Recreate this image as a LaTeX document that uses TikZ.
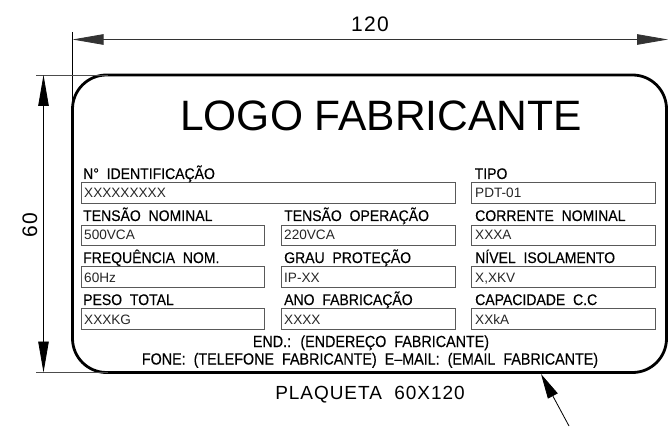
\documentclass[tikz,border=0pt]{standalone}
\usepackage{fontspec}
\setmainfont{Liberation Sans}
\newfontfamily\boldish[FakeBold=0.3,FakeStretch=0.91]{Liberation Sans}
\newfontfamily\footish[FakeBold=0.3,FakeStretch=0.89]{Liberation Sans}
\newfontfamily\wide[LetterSpace=6]{Liberation Sans}
\newfontfamily\widepq[LetterSpace=5]{Liberation Sans}
\usetikzlibrary{arrows.meta}
\tikzset{
  x=1pt,y=-1pt,
  plate/.style={draw=black,line width=2.8pt,rounded corners=34pt},
  field/.style={draw=black!65,line width=0.9pt},
  lab/.style={anchor=base west,inner sep=0pt,font=\boldish\fontsize{15.4}{16}\selectfont},
  val/.style={anchor=base west,inner sep=0pt,text=black!85,font=\fontsize{13.6}{14}\selectfont},
  foot/.style={anchor=base,inner sep=0pt,font=\footish\fontsize{16.1}{17}\selectfont},
  dimtext/.style={inner sep=0pt,font=\wide\fontsize{21}{22}\selectfont},
  dimline/.style={draw=black!80,line width=0.8pt},
  extline/.style={draw=black!70,line width=0.8pt},
  bigtip/.style={{Triangle[length=31pt,width=10.5pt]}-{Triangle[length=31pt,width=10.5pt]}},
  leadertip/.style={{Triangle[length=25pt,width=11pt]}-},
}
\begin{document}
\begin{tikzpicture}
\useasboundingbox (0,0) rectangle (668,427);
\draw[plate] (72.5,75) rectangle (666.5,372.5);
\coordinate (pl) at (72.5,39.5); \coordinate (pr) at (668,39.5);
\coordinate (vt) at (43.5,75); \coordinate (vb) at (43.5,372.5);
\coordinate (e1a) at (72.5,32); \coordinate (e1b) at (72.5,108);
\coordinate (e2a) at (36,75); \coordinate (e2b) at (108,75);
\coordinate (e3a) at (36,372.5); \coordinate (e3b) at (108,372.5);
\coordinate (la) at (541,374); \coordinate (lb) at (569,426);
\draw[extline,black] (e1a) -- (e1b);
\draw[extline] (e2a) -- (e2b);
\draw[extline] (e3a) -- (e3b);
\draw[dimline,bigtip] (pl) -- (pr);
\draw[dimline,black,bigtip] (vt) -- (vb);
\draw[line width=0.8pt,leadertip] (la) -- (lb);
\node[dimtext,anchor=base] (d120) at (370,32) {120};
\node[dimtext,anchor=base,rotate=90] (d60) at (37,225.5) {60};
\node[inner sep=0pt,anchor=base,font=\fontsize{42.5}{46}\selectfont] (logo) at (381,131) {LOGO FABRICANTE};
% fields
\foreach \n/\xa/\ya/\xb/\yb in {
 a1/81/182.5/455.5/203, a3/471/182.5/655.5/203,
 b1/81/225/264.5/245.5, b2/281/225/455.5/245.5, b3/471/225/655.5/245.5,
 c1/81/266/264.5/287, c2/281/266/455.5/287, c3/471/266/655.5/287,
 d1/81/308/264.5/329, d2/281/308/455.5/329, d3/471/308/655.5/329}
 {\draw[field] (\xa,\ya) rectangle (\xb,\yb);}
% labels
\node[lab] (la1) at (83,179) {N° \ IDENTIFICAÇÃO};
\node[lab] (la3) at (474.5,179) {TIPO};
\node[lab] (lb1) at (83,221) {TENSÃO \ NOMINAL};
\node[lab] (lb2) at (284,221) {TENSÃO \ OPERAÇÃO};
\node[lab] (lb3) at (475,221) {CORRENTE \ NOMINAL};
\node[lab] (lc1) at (83,263) {FREQUÊNCIA \ NOM.};
\node[lab] (lc2) at (284,263) {GRAU \ PROTEÇÃO};
\node[lab] (lc3) at (475,263) {NÍVEL \ ISOLAMENTO};
\node[lab] (ld1) at (83,305) {PESO \ TOTAL};
\node[lab] (ld2) at (284,305) {ANO \ FABRICAÇÃO};
\node[lab] (ld3) at (475,305) {CAPACIDADE \ C.C};
% values
\node[val] (va1) at (84,198) {XXXXXXXXX};
\node[val] (va3) at (475,198) {PDT-01};
\node[val] (vb1) at (84,240) {500VCA};
\node[val] (vb2) at (284,240) {220VCA};
\node[val] (vb3) at (475,240) {XXXA};
\node[val] (vc1) at (84,282) {60Hz};
\node[val] (vc2) at (284,282) {IP-XX};
\node[val] (vc3) at (475,282) {X,XKV};
\node[val] (vd1) at (84,324) {XXXKG};
\node[val] (vd2) at (284,324) {XXXX};
\node[val] (vd3) at (475,324) {XXkA};
\node[foot] (f1) at (371,347) {END.: \ (ENDEREÇO \ FABRICANTE)};
\node[foot] (f2) at (370,364.5) {FONE: \ (TELEFONE \ FABRICANTE) \ E–MAIL: \ (EMAIL \ FABRICANTE)};
\node[inner sep=0pt,anchor=base,font=\widepq\fontsize{19}{20}\selectfont] (pq) at (370,399) {PLAQUETA \ 60X120};
\end{tikzpicture}
\end{document}
